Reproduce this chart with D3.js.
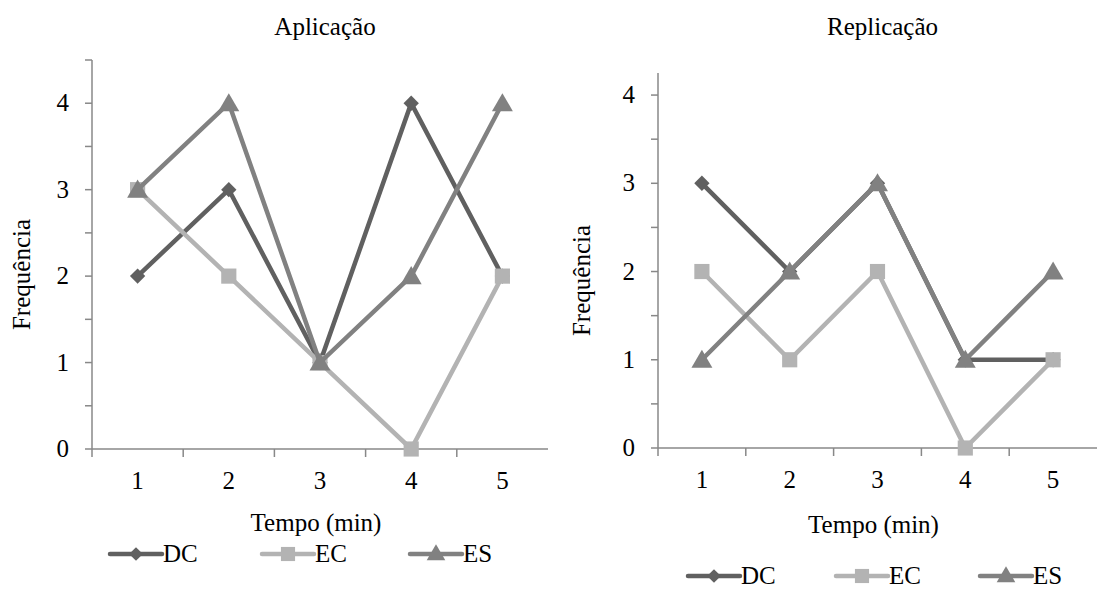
<!DOCTYPE html>
<html>
<head>
<meta charset="utf-8">
<script src="https://cdn.jsdelivr.net/npm/d3@7"></script>
<style>
  body { margin: 0; background: #fff; }
</style>
</head>
<body>
<svg id="chart" width="1100" height="591"></svg>
<script>
// Categories (minutes) and series values for the two panels
const categories = ["1", "2", "3", "4", "5"];
const seriesNames = ["DC", "EC", "ES"];
const aplicacaoDC = [2, 3, 1, 4, 2];
const aplicacaoEC = [3, 2, 1, 0, 2];
const aplicacaoES = [3, 4, 1, 2, 4];
const replicacaoDC = [3, 2, 3, 1, 1];
const replicacaoEC = [2, 1, 2, 0, 1];
const replicacaoES = [1, 2, 3, 1, 2];
const yTickLabels = [0, 1, 2, 3, 4];

const colors = { DC: "#606060", EC: "#b3b3b3", ES: "#818181" };
const symbols = { DC: d3.symbolDiamond2, EC: d3.symbolSquare, ES: d3.symbolTriangle };
const axisColor = "#888";
const FONT = "'Liberation Serif', 'Times New Roman', Times, 'DejaVu Serif', serif";
const FS = 25;

const svg = d3.select("#chart");

function txt(sel) {
  return sel.append("text").attr("font-family", FONT).attr("font-size", FS).attr("fill", "#000");
}

const panels = [
  {
    title: "Aplicação",
    x0: 92, x1: 548, yTop: 60, yBottom: 449, yMax: 4.5,
    data: { DC: aplicacaoDC, EC: aplicacaoEC, ES: aplicacaoES },
    yLabelX: 30, xLabelY: 531, legendY: 554,
    legendX: [110, 262, 410]
  },
  {
    title: "Replicação",
    x0: 658, x1: 1097, yTop: 73, yBottom: 448, yMax: 4.25,
    data: { DC: replicacaoDC, EC: replicacaoEC, ES: replicacaoES },
    yLabelX: 590, xLabelY: 533, legendY: 576,
    legendX: [688, 836, 980]
  }
];

panels.forEach(p => {
  const g = svg.append("g");
  const x = d3.scaleBand().domain(categories).range([p.x0, p.x1]);
  const y = d3.scaleLinear().domain([0, p.yMax]).range([p.yBottom, p.yTop]);
  const cx = c => x(c) + x.bandwidth() / 2;

  // title
  txt(g).attr("x", (p.x0 + p.x1) / 2 + 5).attr("y", 35)
    .attr("text-anchor", "middle").text(p.title);

  // y axis with half-unit ticks, integers labelled
  const minorTicks = d3.range(0, p.yMax + 0.001, 0.5);
  g.append("line").attr("x1", p.x0).attr("x2", p.x0)
    .attr("y1", p.yTop).attr("y2", p.yBottom)
    .attr("stroke", axisColor).attr("stroke-width", 1.5);
  g.selectAll(".ytick").data(minorTicks).enter().append("line")
    .attr("x1", p.x0 - 7).attr("x2", p.x0)
    .attr("y1", d => y(d)).attr("y2", d => y(d))
    .attr("stroke", axisColor).attr("stroke-width", 1.5);
  yTickLabels.forEach(d => {
    txt(g).attr("x", p.x0 - 23).attr("y", y(d) + 8)
      .attr("text-anchor", "end").text(d);
  });

  // x axis with ticks between categories
  g.append("line").attr("x1", p.x0).attr("x2", p.x1)
    .attr("y1", p.yBottom).attr("y2", p.yBottom)
    .attr("stroke", axisColor).attr("stroke-width", 1.5);
  const bounds = categories.map(c => x(c));
  g.selectAll(".xtick").data(bounds).enter().append("line")
    .attr("x1", d => d).attr("x2", d => d)
    .attr("y1", p.yBottom).attr("y2", p.yBottom + 8)
    .attr("stroke", axisColor).attr("stroke-width", 1.5);
  categories.forEach(c => {
    txt(g).attr("x", cx(c)).attr("y", p.yBottom + 40)
      .attr("text-anchor", "middle").text(c);
  });

  // axis titles
  txt(g).attr("transform", `translate(${p.yLabelX},${(p.yTop + p.yBottom) / 2 + 20}) rotate(-90)`)
    .attr("text-anchor", "middle").text("Frequência");
  txt(g).attr("x", (p.x0 + p.x1) / 2 - 4).attr("y", p.xLabelY)
    .attr("text-anchor", "middle").text("Tempo (min)");

  // series lines and markers
  const line = d3.line().x((d, i) => cx(categories[i])).y(d => y(d));
  seriesNames.forEach(name => {
    const vals = p.data[name];
    const sg = g.append("g");
    sg.append("path").datum(vals).attr("d", line)
      .attr("fill", "none").attr("stroke", colors[name]).attr("stroke-width", 4.5);
    const size = name === "ES" ? 190 : (name === "EC" ? 230 : 150);
    sg.selectAll("path.m").data(vals).enter().append("path")
      .attr("class", "m")
      .attr("transform", (d, i) => `translate(${cx(categories[i])},${y(d) + (name === "ES" ? 2 : 0)})`)
      .attr("d", d3.symbol().type(symbols[name]).size(size))
      .attr("fill", colors[name]);
  });

  // legend
  seriesNames.forEach((name, i) => {
    const lx = p.legendX[i];
    const lg = g.append("g");
    lg.append("line").attr("x1", lx).attr("x2", lx + 52)
      .attr("y1", p.legendY).attr("y2", p.legendY)
      .attr("stroke", colors[name]).attr("stroke-width", 4.5).attr("stroke-linecap", "round");
    lg.append("path")
      .attr("transform", `translate(${lx + 26},${p.legendY + (name === "ES" ? 1 : 0)})`)
      .attr("d", d3.symbol().type(symbols[name]).size(name === "ES" ? 150 : (name === "EC" ? 200 : 120)))
      .attr("fill", colors[name]);
    txt(lg).attr("x", lx + 53).attr("y", p.legendY + 8).text(name);
  });
});
</script>
</body>
</html>
